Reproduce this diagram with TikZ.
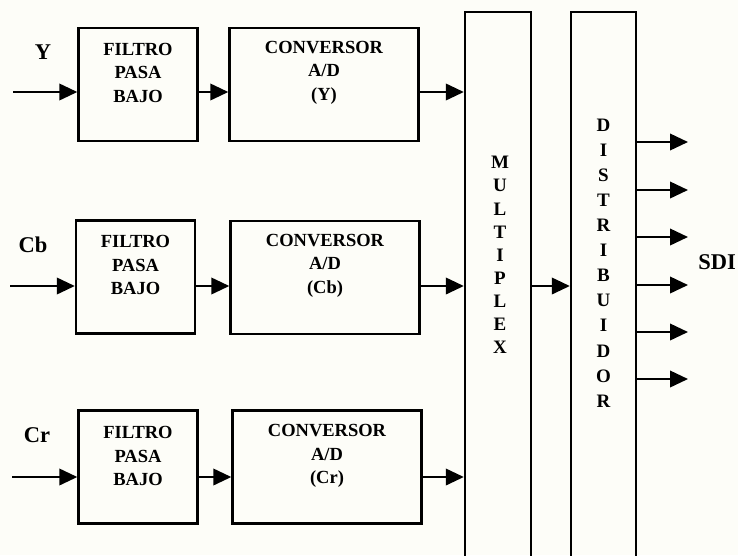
\documentclass[tikz,border=0pt]{standalone}
\usepackage{fontspec}
\setmainfont{Liberation Serif}
\usetikzlibrary{arrows.meta}
\definecolor{paper}{RGB}{253,253,248}
\begin{document}
\begin{tikzpicture}[x=1pt,y=-1pt,
  blk/.style={draw=black,line width=2.4pt,inner sep=0pt},
  fbox/.style={blk,minimum width=119pt,minimum height=113pt},
  cbox/.style={blk,minimum width=189pt,minimum height=113pt},
  tall/.style={blk,minimum height=563pt},
  btext/.style={align=center,font=\bfseries\fontsize{18.5}{23.5}\selectfont,inner sep=0pt},
  lbl/.style={font=\bfseries\fontsize{22.5}{26}\selectfont,inner sep=0pt},
  vstackm/.style={align=center,font=\bfseries\fontsize{19}{23.1}\selectfont,inner sep=0pt},
  vstackd/.style={align=center,font=\bfseries\fontsize{19}{25.1}\selectfont,inner sep=0pt},
  arr/.style={line width=2.2pt,-{Triangle[length=18pt,width=16.5pt]}}]
\clip (0,0) rectangle (738,555);
\fill[paper] (0,0) rectangle (738,555);

% rows
\coordinate (r1) at (0,92);
\coordinate (r2) at (0,286);
\coordinate (r3) at (0,477);

% row 1
\node[fbox] (f1) at (138,84.5) {};
\node[btext] (f1t) at ([yshift=12pt]f1.center) {FILTRO\\PASA\\BAJO};
\node[cbox] (c1) at (324,84.5) {};
\node[btext] (c1t) at ([yshift=12pt]c1.center) {CONVERSOR\\A/D\\(Y)};
\node[lbl] (ly) at (43,52) {Y};
\coordinate (in1) at (13,92);

% row 2
\node[fbox] (f2) at (135.5,277) {};
\node[btext] (f2t) at ([yshift=12pt]f2.center) {FILTRO\\PASA\\BAJO};
\node[cbox] (c2) at (325,277.5) {};
\node[btext] (c2t) at ([yshift=12pt]c2.center) {CONVERSOR\\A/D\\(Cb)};
\node[lbl] (lcb) at (33,245) {Cb};
\coordinate (in2) at (10,286);

% row 3
\node[fbox] (f3) at (138,467) {};
\node[btext] (f3t) at ([yshift=11pt]f3.center) {FILTRO\\PASA\\BAJO};
\node[cbox] (c3) at (327,467) {};
\node[btext] (c3t) at ([yshift=11pt]c3.center) {CONVERSOR\\A/D\\(Cr)};
\node[lbl] (lcr) at (37,435) {Cr};
\coordinate (in3) at (12,477);

% multiplex and distribuidor
\node[tall,minimum width=66pt] (mux) at (498,293.5) {};
\node[vstackm] (muxt) at (500,255) {M\\U\\L\\T\\I\\P\\L\\E\\X};
\node[tall,minimum width=65pt] (dist) at (603.5,293.5) {};
\node[vstackd] (distt) at (603.5,263) {D\\I\\S\\T\\R\\I\\B\\U\\I\\D\\O\\R};
\node[lbl] (sdi) at (717,262) {SDI};

% connectors
\foreach \i in {1,2,3}{
  \draw[arr] (in\i) -- (f\i.west |- r\i);
  \draw[arr] (f\i.east |- r\i) -- (c\i.west |- r\i);
  \draw[arr] (c\i.east |- r\i) -- (mux.west |- r\i);
}
\draw[arr] (mux.east |- r2) -- (dist.west |- r2);

\foreach \k/\yy in {1/142,2/190,3/237,4/285,5/332,6/379}{
  \coordinate (o\k) at (688,\yy);
  \draw[arr] (dist.east |- o\k) -- (o\k);
}
\end{tikzpicture}
\end{document}
